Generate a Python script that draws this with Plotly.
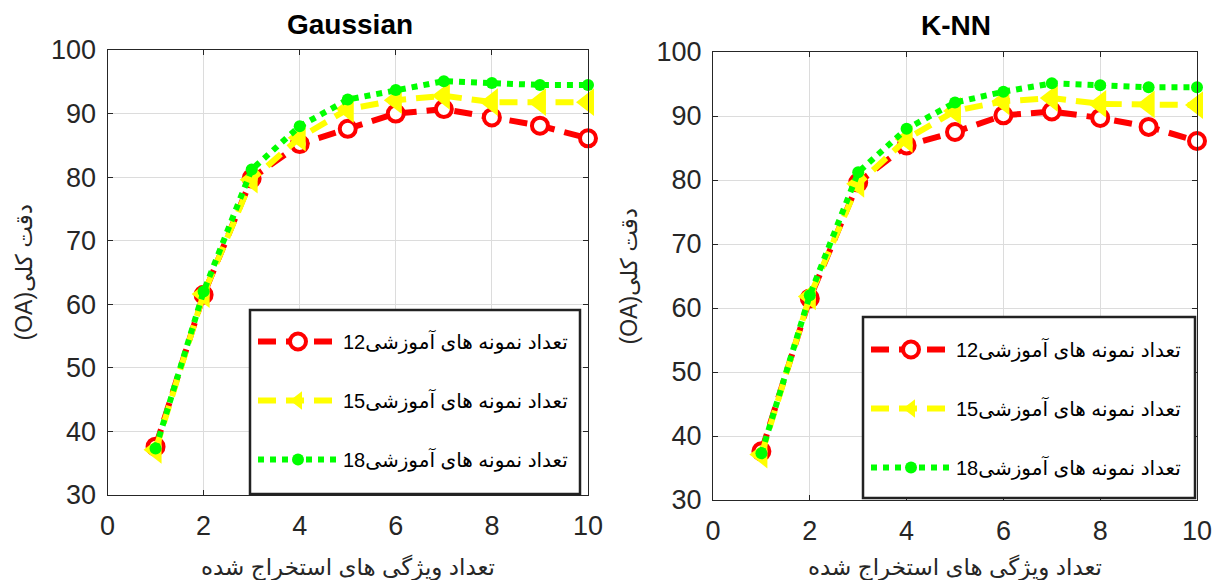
import plotly.graph_objects as go

features = [1, 2, 3, 4, 5, 6, 7, 8, 9, 10]

gauss_12 = [37.6, 61.5, 79.8, 85.2, 87.6, 90.0, 90.7, 89.4, 88.1, 86.1]
gauss_15 = [37.1, 61.6, 79.6, 86.2, 90.7, 92.1, 92.8, 91.8, 91.8, 91.8]
gauss_18 = [37.3, 62.0, 81.2, 88.0, 92.2, 93.7, 95.1, 94.8, 94.5, 94.5]

knn_12 = [37.6, 61.5, 79.6, 85.4, 87.5, 90.1, 90.7, 89.7, 88.3, 86.1]
knn_15 = [37.1, 61.8, 79.4, 86.4, 90.8, 92.3, 92.8, 91.9, 91.8, 91.7]
knn_18 = [37.3, 62.0, 81.2, 88.0, 92.1, 93.8, 95.1, 94.8, 94.5, 94.5]

series_names = ["تعداد نمونه های آموزشی12", "تعداد نمونه های آموزشی15", "تعداد نمونه های آموزشی18"]
titles = ["Gaussian", "K-NN"]
x_title = "تعداد ویژگی های استخراج شده"
y_title = "(OA)دقت کلی"
x_ticks = [0, 2, 4, 6, 8, 10]
y_ticks = [30, 40, 50, 60, 70, 80, 90, 100]

FONT = "Liberation Sans, Arial, DejaVu Sans, sans-serif"
TXT = "#262626"
W, H = 1206, 572  # page body has an 8px margin inside the 1222x588 window

styles = [
    dict(line=dict(color="#ff0000", width=6, dash="18px,10px"),
         marker=dict(symbol="circle", size=16, color="white", line=dict(color="#ff0000", width=4))),
    dict(line=dict(color="#ffff00", width=6, dash="18px,10px"),
         marker=dict(symbol="triangle-left", size=24, color="#ffff00", line=dict(width=0))),
    dict(line=dict(color="#00ff00", width=6, dash="dot"),
         marker=dict(symbol="circle", size=12, color="#00ff00", line=dict(width=0))),
]

fig = go.Figure()
panels = [(gauss_12, gauss_15, gauss_18), (knn_12, knn_15, knn_18)]
for p, data in enumerate(panels):
    suffix = "" if p == 0 else "2"
    for i, ys in enumerate(data):
        fig.add_trace(go.Scatter(
            x=features, y=ys, mode="lines+markers", name=series_names[i],
            xaxis="x" + suffix, yaxis="y" + suffix,
            legend="legend" + suffix, legendgroup=f"g{p}{i}",
            cliponaxis=False, **styles[i]))

xdoms = [[99.5 / W, 580 / W], [705 / W, 1189 / W]]
ydoms = [[1 - 487 / H, 1 - 42 / H], [1 - 492 / H, 1 - 44 / H]]
axis_common = dict(
    showline=True, linecolor=TXT, linewidth=1, mirror="ticks",
    ticks="inside", ticklen=5, tickcolor=TXT, automargin=False,
    showgrid=True, gridcolor="#dcdcdc", gridwidth=1, zeroline=False,
    tickfont=dict(family=FONT, size=27, color=TXT),
)
for p in range(2):
    suffix = "" if p == 0 else "2"
    fig.update_layout(**{
        "xaxis" + suffix: dict(domain=xdoms[p], range=[0, 10], tickvals=x_ticks,
                               anchor="y" + suffix, ticklabelstandoff=7, **axis_common),
        "yaxis" + suffix: dict(domain=ydoms[p], range=[30, 100], tickvals=y_ticks,
                               anchor="x" + suffix, ticklabelstandoff=5, **axis_common),
    })

# axis titles and panel titles
for p in range(2):
    x0, x1 = xdoms[p]
    y0, y1 = ydoms[p]
    fig.add_annotation(text=x_title, x=(x0 + x1) / 2, y=1 - 559 / H, xref="paper", yref="paper",
                       showarrow=False, xanchor="center", yanchor="middle",
                       font=dict(family=FONT, size=23, color=TXT))
    fig.add_annotation(text=y_title, x=x0 - (99.5 - 15) / W, y=(y0 + y1) / 2, xref="paper", yref="paper",
                       showarrow=False, xanchor="center", yanchor="middle", textangle=-90,
                       font=dict(family=FONT, size=23, color=TXT))

title_pos = [(341.5, 17), (948, 18)]
for p, (tx, ty) in enumerate(title_pos):
    fig.add_annotation(text="<b>" + titles[p] + "</b>", x=tx / W, y=1 - ty / H,
                       xref="paper", yref="paper", showarrow=False,
                       font=dict(family=FONT, size=28, color="black"),
                       xanchor="center", yanchor="middle")

# legend boxes
boxes = [(242, 572, 302, 486), (855, 1187, 309, 490)]
for (bx0, bx1, by0, by1) in boxes:
    fig.add_shape(type="rect", xref="paper", yref="paper",
                  x0=bx0 / W, x1=bx1 / W, y0=1 - by1 / H, y1=1 - by0 / H,
                  fillcolor="white", line=dict(color="#222222", width=2.5), layer="above")

legend_common = dict(
    bgcolor="rgba(0,0,0,0)", borderwidth=0,
    font=dict(family=FONT, size=20, color="black"),
    itemwidth=80, tracegroupgap=30, traceorder="grouped",
    xanchor="left", yanchor="top",
)
fig.update_layout(
    legend=dict(x=245 / W, y=1 - 314 / H, **legend_common),
    legend2=dict(x=858 / W, y=1 - 322 / H, **legend_common),
)

fig.update_layout(
    width=W, height=H,
    margin=dict(l=0, r=0, t=0, b=0),
    paper_bgcolor="white", plot_bgcolor="white",
    showlegend=True,
)

fig.write_html("out.html")
